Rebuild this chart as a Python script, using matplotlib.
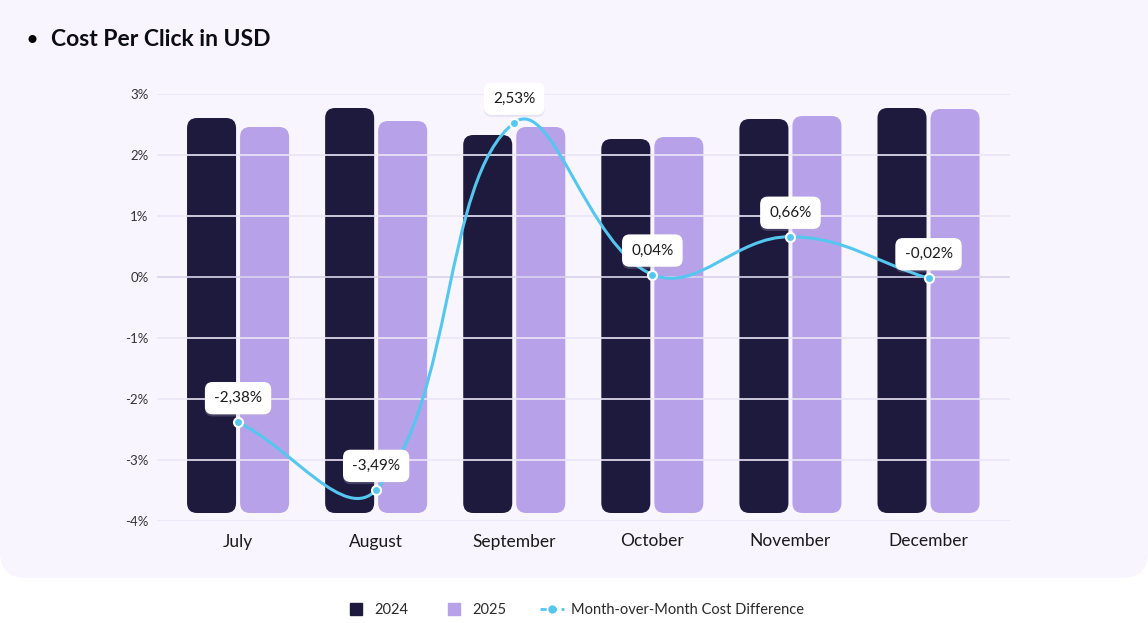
import matplotlib.pyplot as plt
import numpy as np
from matplotlib.patches import FancyBboxPatch, Circle
from matplotlib.lines import Line2D
from matplotlib.path import Path
from matplotlib.patches import PathPatch
import matplotlib.patheffects as pe

plt.rcParams['font.family'] = ['Lato', 'DejaVu Sans']

#%% Data
months = ['July', 'August', 'September', 'October', 'November', 'December']
cpc_2024 = [3.95, 4.05, 3.78, 3.74, 3.94, 4.05]
cpc_2025 = [3.86, 3.92, 3.86, 3.76, 3.97, 4.04]
mom_diff = [-2.38, -3.49, 2.53, 0.04, 0.66, -0.02]
pct_ticks = [3, 2, 1, 0, -1, -2, -3, -4]

C_2024 = '#1e1a3e'
C_2025 = '#b7a1e8'
C_LINE = '#55c7ef'
C_CARD = '#f8f5fe'
C_GRID = '#ebe6f6'

W, H = 1148, 623
fig = plt.figure(figsize=(W / 100, H / 100), dpi=100)
fig.patch.set_facecolor('white')

# background card
bg = fig.add_axes([0, 0, 1, 1], zorder=-10)
bg.set_xlim(0, W)
bg.set_ylim(H, 0)
bg.axis('off')
bg.add_patch(FancyBboxPatch((0, -30), W, 608, boxstyle='round,pad=0,rounding_size=26',
                            fc=C_CARD, ec='none'))
bg.add_patch(Circle((32.5, 39), 4, fc='black', ec='none'))
bg.text(51, 46, 'Cost Per Click in USD', fontsize=16.5, fontweight='bold',
        color='#0c0c14', va='baseline', ha='left')

#%% Axes
ax_left, ax_right, ax_top, ax_bot = 157, 1010, 94, 521
pos = [ax_left / W, 1 - ax_bot / H, (ax_right - ax_left) / W, (ax_bot - ax_top) / H]
ax = fig.add_axes(pos)
ax.set_facecolor('none')
x = np.arange(len(months))
ax.set_xlim(-0.587, 5.59)
ax.set_ylim(-4, 3)
ax.set_yticks(pct_ticks)
ax.set_yticklabels([f'{t}%' for t in pct_ticks])
ax.set_xticks(x)
ax.set_xticklabels(months)
ax.tick_params(axis='both', length=0)
ax.tick_params(axis='y', pad=6, labelsize=9.5, labelcolor='#333333')
ax.tick_params(axis='x', pad=9, labelsize=12.5, labelcolor='#1a1a1a')
for s in ax.spines.values():
    s.set_visible(False)
for t in pct_ticks:
    ax.axhline(t, color='#d9d2ea' if t == 0 else C_GRID, lw=1.2, zorder=0)

# bars on hidden twin axis
axb = ax.twinx()
axb.set_ylim(-0.08, 4.19)
axb.axis('off')
axb.set_zorder(1)
ax.set_zorder(2)

bar_w = 0.355
offset = 0.192
px_x = (ax_right - ax_left) / (5.59 + 0.587)   # pixels per x unit
px_y = (ax_bot - ax_top) / 4.27                # pixels per twin y unit
radius = 10 / px_x
aspect = px_x / px_y
for vals, off, col in [(cpc_2024, -offset, C_2024), (cpc_2025, offset, C_2025)]:
    for xi, v in zip(x, vals):
        axb.add_patch(FancyBboxPatch((xi + off - bar_w / 2, 0), bar_w, v,
                                     boxstyle=f'round,pad=0,rounding_size={radius}',
                                     mutation_aspect=aspect, fc=col, ec='none'))

#%% Smooth line (bezier spline, tension 0.4)
ppx, ppy = 138.0, 61.0
P = np.column_stack([x * ppx, np.array(mom_diff) * ppy])
tension = 0.4
n = len(P)
cp_prev = np.zeros_like(P)
cp_next = np.zeros_like(P)
for i in range(n):
    p0 = P[i - 1] if i > 0 else P[i]
    p1 = P[i]
    p2 = P[i + 1] if i < n - 1 else P[i]
    d01 = np.hypot(*(p1 - p0))
    d12 = np.hypot(*(p2 - p1))
    tot = d01 + d12
    s01 = d01 / tot if tot else 0
    s12 = d12 / tot if tot else 0
    cp_prev[i] = p1 - tension * s01 * (p2 - p0)
    cp_next[i] = p1 + tension * s12 * (p2 - p0)

verts = [P[0]]
codes = [Path.MOVETO]
for i in range(n - 1):
    verts += [cp_next[i], cp_prev[i + 1], P[i + 1]]
    codes += [Path.CURVE4] * 3
verts = np.array(verts) / np.array([ppx, ppy])
ax.add_patch(PathPatch(Path(verts, codes), fc='none', ec=C_LINE, lw=2.2, zorder=3,
                       capstyle='round'))
ax.plot(x, mom_diff, 'o', ms=6.5, mfc=C_LINE, mec='white', mew=1.5, zorder=4)

for xi, v in zip(x, mom_diff):
    lab = f'{v:.2f}'.replace('.', ',') + '%'
    ann = ax.annotate(lab, (xi, v), xytext=(0, 24), textcoords='offset pixels',
                      ha='center', va='center', fontsize=11, color='#1a1a1a', zorder=5,
                      bbox=dict(boxstyle='round,pad=0.6,rounding_size=0.5', fc='white',
                                ec='none'))
    ann.get_bbox_patch().set_path_effects([
        pe.SimplePatchShadow(offset=(0, -1.5), shadow_rgbFace='#b9b0d0', alpha=0.25),
        pe.Normal()])

#%% Legend
handles = [
    Line2D([], [], ls='none', marker='s', ms=9, mfc=C_2024, mec=C_2024),
    Line2D([], [], ls='none', marker='s', ms=9, mfc=C_2025, mec=C_2025),
    Line2D([], [], ls=(0, (2.2, 1.6)), lw=2, color=C_LINE, marker='o', ms=5,
           mfc=C_LINE, mec=C_LINE),
]
fig.legend(handles, ['2024', '2025', 'Month-over-Month Cost Difference'],
           loc='center', bbox_to_anchor=(0.5, 1 - 610 / H), ncol=3, frameon=False,
           fontsize=10.5, columnspacing=2.3, handletextpad=0.5, handlelength=1.6,
           labelcolor='#2a2a2a')

fig.savefig('out.png', dpi=100, facecolor=fig.get_facecolor())
